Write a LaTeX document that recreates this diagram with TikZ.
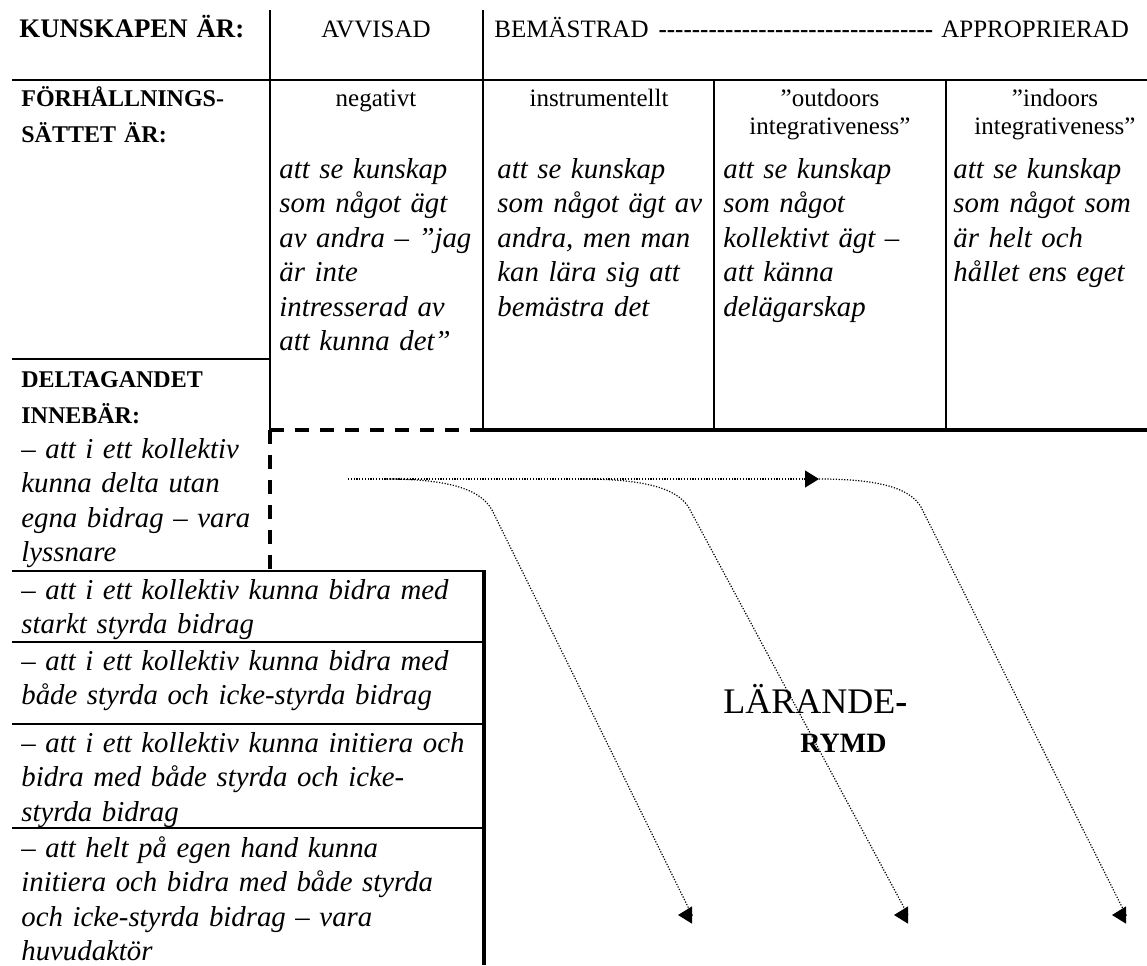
\documentclass[tikz,border=0pt]{standalone}
\usepackage{fontspec}
\setmainfont{Liberation Serif}[Ligatures=TeXOff]
\usetikzlibrary{arrows.meta}

\begin{document}
\begin{tikzpicture}[
    x=0.5pt, y=-0.5pt,
    lbl/.style={font=\fontsize{12}{18}\selectfont\bfseries, anchor=base west, inner sep=0pt, text width=130pt, align=left},
    head/.style={font=\fontsize{12.5}{14}\selectfont, anchor=base, inner sep=0pt, text width=110pt, align=center},
    body/.style={font=\fontsize{14.4}{17.25}\selectfont\itshape, anchor=base west, inner sep=0pt, text width=240pt, align=left},
    rule/.style={line width=1pt},
    cut/.style={line width=1.65pt, dash pattern=on 7pt off 5.5pt},
    flow/.style={line width=0.6pt, dash pattern=on 0.6pt off 0.8pt, -{Triangle[length=7pt,width=8.5pt]}}
  ]
  \useasboundingbox (0,0) rectangle (1147,965);

  \node[lbl, font=\fontsize{13.4}{18}\selectfont\bfseries] (kunLbl) at (19,37) {KUNSKAPEN ÄR:};
  \node[head] (avvisad) at (376,37) {AVVISAD};
  \node[head, anchor=base west, text width=330pt, align=left] (scaleHead) at (494,37)
    {BEMÄSTRAD\hspace{5pt}{\bfseries ---------------------------------}\hspace{4pt}APPROPRIERAD};

  \node[lbl] (forhLbl) at (21,106) {FÖRHÅLLNINGS-\\SÄTTET ÄR:};
  \node[head] (negHead) at (376,106) {negativt};
  \node[head] (instHead) at (599,106) {instrumentellt};
  \node[head] (outHead) at (830,106) {”outdoors\\integrativeness”};
  \node[head] (inHead) at (1055,106) {”indoors\\integrativeness”};

  \node[body] (negText) at (279,178) {att se kunskap\\som något ägt\\av andra – ”jag\\är inte\\intresserad av\\att kunna det”};
  \node[body] (instText) at (497,178) {att se kunskap\\som något ägt av\\andra, men man\\kan lära sig att\\bemästra det};
  \node[body] (outText) at (723,178) {att se kunskap\\som något\\kollektivt ägt –\\att känna\\delägarskap};
  \node[body] (inText) at (953,178) {att se kunskap\\som något som\\är helt och\\hållet ens eget};

  \node[lbl] (delLbl) at (21,387) {DELTAGANDET\\INNEBÄR:};
  \node[body] (lyssText) at (21,458) {– att i ett kollektiv\\kunna delta utan\\egna bidrag – vara\\lyssnare};
  \node[body] (styrText) at (21,599) {– att i ett kollektiv kunna bidra med\\starkt styrda bidrag};
  \node[body] (badeText) at (21,670) {– att i ett kollektiv kunna bidra med\\både styrda och icke-styrda bidrag};
  \node[body] (initText) at (21,752) {– att i ett kollektiv kunna initiera och\\bidra med både styrda och icke-\\styrda bidrag};
  \node[body] (huvText) at (21,857) {– att helt på egen hand kunna\\initiera och bidra med både styrda\\och icke-styrda bidrag – vara\\huvudaktör};

  \node[anchor=base west, inner sep=0pt, font=\fontsize{18}{20}\selectfont] (larLbl) at (723,713)
    {LÄRANDE{\bfseries -}};
  \node[anchor=base west, inner sep=0pt, font=\fontsize{14}{16}\selectfont\bfseries] (rymdLbl) at (800,752) {RYMD};

  \draw[line width=1.35pt] (12,80) -- (1147,80);
  \draw[rule] (270,10) -- (270,430);
  \draw[rule] (483,10) -- (483,430);
  \draw[rule] (714,80) -- (714,359) (946,80) -- (946,359);
  \draw[line width=0.6pt] (714,359) -- (714,430) (946,359) -- (946,430);
  \draw[line width=1.3pt] (12,359) -- (270,359);
  \draw[line width=1.75pt] (483,430) -- (1147,430);
  \draw[cut] (270,430) -- (483,430) (270,430) -- (270,570);
  \draw[line width=1.35pt] (12,571) -- (486,571);
  \draw[line width=2pt] (484,571) -- (484,965);
  \draw[rule] (12,642) -- (484,642) (12,724) -- (484,724) (12,828) -- (484,828);

  \coordinate (flowStart) at (348,479);
  \coordinate (flowTip) at (819,479);
  \coordinate (bendA) at (386,479);
  \coordinate (bendB) at (581,479);
  \coordinate (endA) at (692,915);
  \coordinate (tipA) at (678,915);
  \coordinate (endB) at (908,915);
  \coordinate (tipB) at (894,915);
  \coordinate (endC) at (1126,915);
  \coordinate (tipC) at (1112,915);

  \draw[flow] (flowStart) -- (flowTip);
  \draw[flow] (bendA) .. controls (445,479) and (480,488) .. (492,510) -- (endA) -- (tipA);
  \draw[flow] (bendB) .. controls (640,479) and (677,487) .. (689,508) -- (endB) -- (tipB);
  \draw[flow] (flowTip) .. controls (872,479) and (909,486) .. (921,507) -- (endC) -- (tipC);
\end{tikzpicture}
\end{document}
